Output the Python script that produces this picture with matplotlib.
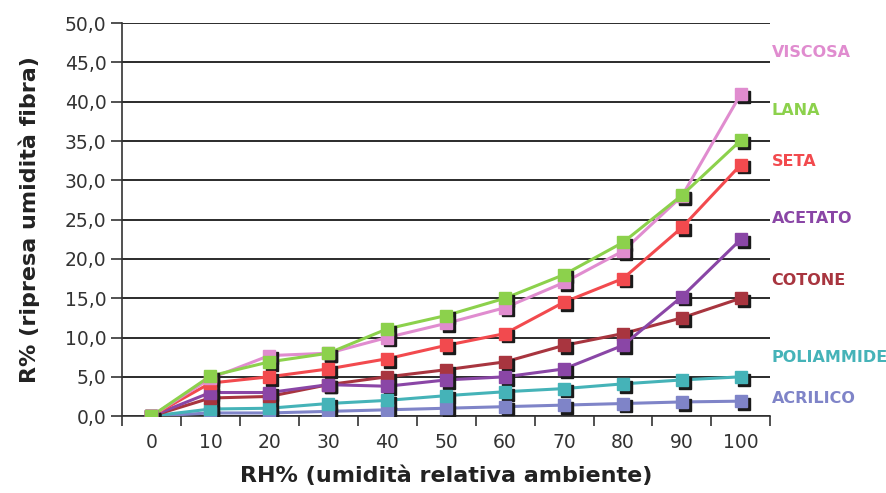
import numpy as np
import matplotlib.pyplot as plt
import matplotlib.transforms as mtransforms
from matplotlib.ticker import FuncFormatter

# dati
rh = [0, 10, 20, 30, 40, 50, 60, 70, 80, 90, 100]
viscosa = [0, 4.8, 7.7, 8.0, 10.0, 11.8, 13.8, 17.0, 21.0, 28.0, 41.0]
lana = [0, 5.1, 6.9, 8.0, 11.1, 12.8, 15.0, 18.0, 22.1, 28.1, 35.1]
seta = [0, 4.2, 5.0, 6.0, 7.3, 9.0, 10.5, 14.5, 17.5, 24.0, 32.0]
acetato = [0, 3.0, 3.0, 4.0, 3.8, 4.6, 5.0, 6.0, 9.0, 15.2, 22.5]
cotone = [0, 2.3, 2.5, 4.0, 5.0, 5.9, 6.9, 9.0, 10.5, 12.5, 15.0]
poliammide = [0, 0.9, 1.0, 1.6, 2.0, 2.6, 3.1, 3.5, 4.1, 4.6, 5.0]
acrilico = [0, 0.4, 0.4, 0.6, 0.8, 1.0, 1.2, 1.4, 1.6, 1.8, 1.9]

serie = [
    ("VISCOSA", viscosa, "#e08ccf", 46.3),
    ("LANA", lana, "#8cd14c", 38.9),
    ("SETA", seta, "#f24a4e", 32.4),
    ("ACETATO", acetato, "#8a46a6", 25.2),
    ("COTONE", cotone, "#a8353f", 17.3),
    ("POLIAMMIDE", poliammide, "#45b3b8", 7.5),
    ("ACRILICO", acrilico, "#7f84c8", 2.3),
]
# ordine di disegno: dal basso verso l'alto
ordine = ["ACRILICO", "POLIAMMIDE", "COTONE", "ACETATO", "SETA", "VISCOSA", "LANA"]

fig = plt.figure(figsize=(8.87, 4.93), dpi=100)
ax = fig.add_axes([0.1375, 0.156, 0.731, 0.797])

x = np.arange(len(rh))
shadow = mtransforms.offset_copy(ax.transData, fig=fig, x=2, y=-2, units='points')

lookup = {s[0]: s for s in serie}
for name in ordine:
    _, vals, col, _ = lookup[name]
    ax.plot(x, vals, color=col, lw=2.2, zorder=3)
    ax.plot(x, vals, ls='none', marker='s', ms=9, color='#1a1a1a', transform=shadow, zorder=3)
    ax.plot(x, vals, ls='none', marker='s', ms=9, color=col, zorder=4)

for name, vals, col, ylab in serie:
    ax.text(1.002, ylab, name, transform=ax.get_yaxis_transform(), color=col,
            fontsize=11.5, fontweight='bold', va='center', ha='left')

ax.set_xlim(-0.5, 10.5)
ax.set_ylim(0, 50)
ax.set_yticks(np.arange(0, 51, 5))
ax.yaxis.set_major_formatter(FuncFormatter(lambda v, p: f"{v:.1f}".replace('.', ',')))
ax.set_xticks(x)
ax.set_xticklabels([str(v) for v in rh])
ax.set_xticks(np.arange(-0.5, 11, 1), minor=True)
ax.tick_params(axis='x', which='major', length=0, pad=12, labelsize=13.5, colors='#333333')
ax.tick_params(axis='x', which='minor', length=7, width=1.2, color='#333333')
ax.tick_params(axis='y', length=8, width=1.2, labelsize=13.5, colors='#333333', pad=3)

ax.grid(axis='y', color='#1a1a1a', lw=1.3, zorder=1)
ax.set_axisbelow(True)
for s in ['top', 'right']:
    ax.spines[s].set_visible(False)
ax.spines['left'].set_color('#333333')
ax.spines['bottom'].set_color('#333333')
ax.spines['left'].set_linewidth(1.2)
ax.spines['bottom'].set_linewidth(1.2)

ax.set_xlabel("RH% (umidità relativa ambiente)", fontsize=16, fontweight='bold',
              color='#222222', labelpad=10)
ax.set_ylabel("R% (ripresa umidità fibra)", fontsize=16, fontweight='bold',
              color='#222222', labelpad=18)

fig.savefig("out.png", dpi=100)
